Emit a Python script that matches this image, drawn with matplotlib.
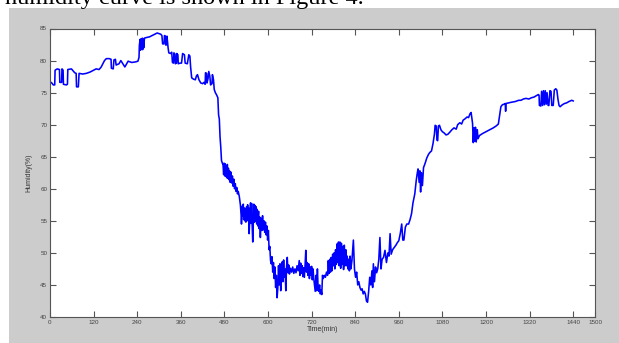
import numpy as np
import matplotlib.pyplot as plt

# humidity record (time in minutes, humidity in %),
# split into four stretches of the day

# night / morning, high plateau (0-475 min)
morning_t = [
    0, 5, 9, 13, 14, 20, 26, 27, 32, 33, 36, 37, 45, 48, 49, 59, 68, 72, 73, 78,
    80, 90, 100, 110, 127, 135, 141, 150, 155, 163, 168, 169, 174, 176, 180, 182, 186, 190, 195, 206,
    215, 225, 236, 242, 245, 246, 248, 249, 251, 252, 254, 255, 257, 258, 260, 266, 274, 281, 288, 295,
    300, 305, 308, 310, 314, 315, 318, 319, 321, 322, 325, 327, 332, 335, 337, 340, 341, 344, 345, 348,
    349, 352, 353, 358, 362, 365, 370, 372, 378, 382, 385, 387, 390, 395, 400, 403, 406, 410, 415, 420,
    424, 427, 428, 431, 432, 435, 437, 440, 442, 446, 447, 450, 452, 455, 458, 462, 464, 466, 468, 470,
    472, 475,
]
morning_h = [
    76.7, 76.5, 76.2, 76.2, 78.5, 78.7, 78.6, 76.6, 76.6, 78.7, 78.5, 76.3, 76.2, 76.3, 78.6, 78.7, 78.1, 78.0, 75.9, 75.9,
    78.0, 77.9, 78.0, 78.2, 78.7, 78.6, 79.0, 80.0, 80.3, 80.3, 80.2, 78.8, 78.7, 80.1, 80.2, 79.3, 79.4, 79.5, 80.0, 79.0,
    79.9, 79.7, 79.8, 79.9, 80.5, 82.4, 83.3, 81.6, 83.4, 81.8, 83.5, 81.7, 83.4, 82.0, 83.5, 83.6, 83.7, 83.9, 84.1, 84.3,
    84.2, 84.1, 83.9, 82.6, 82.6, 83.9, 83.8, 82.4, 82.5, 83.8, 82.0, 81.2, 81.1, 81.3, 79.7, 79.6, 81.2, 81.0, 79.5, 79.6,
    81.1, 80.9, 79.5, 79.6, 79.6, 81.1, 80.9, 79.6, 79.5, 80.9, 80.7, 79.0, 77.3, 77.1, 77.0, 77.6, 77.8, 77.0, 76.5, 76.4,
    76.6, 76.3, 78.1, 78.0, 76.5, 77.2, 78.3, 77.5, 76.2, 76.4, 77.8, 77.0, 75.5, 75.0, 74.7, 74.2, 71.5, 70.9, 68.1, 66.5,
    64.4, 63.9,
]

# fall (476-605 min)
fall_t = [
    476, 478, 479, 481, 482, 484, 485, 487, 488, 490,
    491, 493, 494, 496, 498, 500, 502, 504, 506, 508,
    510, 512, 514, 516, 518, 521, 524, 526, 527, 529,
    530, 532, 533, 535, 536, 538, 539, 541, 542, 544,
    545, 547, 548, 550, 552, 553, 555, 556, 558, 560,
    561, 563, 564, 566, 567, 569, 570, 572, 574, 575,
    577, 579, 581, 583, 585, 587, 589, 591, 593, 595,
    597, 599, 601, 603, 605,
]
fall_h = [
    63.9, 62.2, 64.0, 62.0, 63.9, 61.9, 63.6, 61.7, 63.8, 61.6,
    63.2, 61.4, 62.8, 61.0, 62.6, 60.9, 62.0, 60.4, 61.5, 60.0,
    60.8, 59.6, 60.2, 59.2, 59.6, 58.8, 57.5, 55.9, 54.5, 57.3,
    55.8, 57.6, 55.2, 57.0, 55.0, 56.8, 54.8, 57.2, 55.2, 57.5,
    55.0, 57.0, 53.0, 55.5, 57.8, 54.6, 57.7, 55.0, 51.7, 56.0,
    57.6, 54.8, 57.4, 55.0, 57.2, 54.5, 56.8, 54.2, 56.5, 53.8,
    55.6, 52.4, 55.4, 53.5, 55.8, 53.6, 55.0, 53.2, 54.8, 52.8,
    54.2, 52.0, 53.5, 50.5, 51.0,
]

# afternoon trough (607-868 min)
trough_t = [
    607, 609, 611, 613, 615, 617, 619, 621, 623, 625,
    627, 629, 631, 633, 635, 637, 639, 641, 643, 645,
    647, 649, 651, 653, 655, 657, 659, 662, 665, 668,
    671, 674, 677, 680, 683, 686, 688, 690, 692, 694,
    696, 698, 700, 702, 704, 706, 708, 710, 712, 714,
    716, 718, 720, 722, 724, 726, 728, 730, 732, 734,
    736, 738, 740, 742, 744, 746, 748, 750, 752, 755,
    758, 761, 764, 766, 768, 770, 772, 774, 776, 778,
    780, 782, 784, 786, 788, 790, 792, 794, 796, 798,
    800, 802, 804, 806, 808, 810, 812, 814, 816, 818,
    820, 822, 824, 826, 828, 831, 835, 838, 841, 844,
    847, 850, 853, 856, 859, 862, 865, 868,
]
trough_h = [
    48.8, 48.3, 49.4, 47.0, 48.5, 46.0, 47.8, 44.6, 46.5, 43.0,
    44.5, 48.0, 45.0, 48.3, 44.1, 47.5, 48.6, 45.5, 48.9, 46.2,
    47.5, 44.1, 47.8, 49.3, 46.9, 48.1, 46.7, 47.6, 47.0, 47.8,
    46.8, 47.5, 46.9, 48.0, 47.2, 48.8, 46.5, 48.4, 46.8, 48.0,
    46.3, 47.7, 46.2, 48.0, 50.4, 47.0, 48.5, 46.5, 48.3, 46.0,
    47.8, 46.5, 47.9, 45.8, 47.5, 46.0, 45.0, 44.0, 46.5, 44.1,
    47.5, 44.4, 44.0, 45.0, 43.6, 44.2, 43.5, 46.5, 46.0, 46.5,
    46.2, 47.0, 46.5, 48.8, 46.8, 49.0, 47.0, 49.3, 47.2, 49.8,
    48.0, 50.0, 47.5, 50.5, 48.2, 51.4, 48.5, 51.7, 48.0, 51.7,
    47.6, 51.5, 48.2, 51.0, 47.4, 51.2, 48.0, 50.5, 48.0, 49.5,
    47.5, 49.0, 47.2, 49.5, 47.5, 48.8, 52.0, 47.5, 46.2, 47.0,
    45.0, 45.5, 44.6, 44.2, 44.4, 43.6, 44.0, 43.6,
]

# evening rise (871-1440 min)
rise_t = [
    871, 874, 877, 880, 883, 886, 888, 890, 893, 896,
    899, 902, 905, 908, 911, 914, 918, 922, 926, 930, 933, 936, 939, 943, 947, 952, 956, 960, 964, 968,
    971, 974, 978, 982, 987, 991, 995, 999, 1004, 1008, 1011, 1013, 1016, 1018, 1020, 1022, 1025, 1028, 1032, 1037,
    1042, 1046, 1050, 1054, 1058, 1060, 1063, 1065, 1067, 1069, 1072, 1076, 1080, 1085, 1090, 1095, 1100, 1106, 1112, 1118,
    1122, 1128, 1133, 1137, 1142, 1148, 1152, 1156, 1159, 1161, 1163, 1165, 1167, 1169, 1171, 1173, 1176, 1178, 1182, 1190,
    1200, 1210, 1220, 1228, 1234, 1238, 1241, 1245, 1250, 1253, 1254, 1255, 1262, 1270, 1280, 1290, 1296, 1303, 1310, 1318,
    1325, 1332, 1338, 1344, 1346, 1347, 1351, 1353, 1356, 1358, 1361, 1363, 1366, 1368, 1371, 1373, 1376, 1379, 1381, 1385,
    1388, 1392, 1395, 1398, 1401, 1404, 1410, 1416, 1422, 1428, 1436, 1440,
]
rise_h = [
    42.5, 42.3, 44.0, 46.2, 45.0, 47.2, 44.6, 48.3, 45.5, 47.8,
    46.9, 47.5, 49.0, 52.4, 47.5, 49.0, 49.3, 50.4, 48.5, 50.0, 49.5, 53.0, 49.8, 50.5, 50.8, 51.2, 51.6, 51.9, 53.0, 54.5,
    52.0, 52.0, 54.0, 54.5, 54.5, 55.2, 56.1, 57.8, 59.2, 61.3, 62.5, 63.1, 61.0, 62.8, 59.5, 62.5, 60.5, 63.3, 63.9, 64.8,
    65.4, 65.7, 65.9, 67.0, 68.5, 69.9, 69.8, 67.6, 67.5, 69.8, 69.9, 69.2, 68.9, 68.7, 68.4, 68.5, 68.8, 69.2, 69.5, 69.3,
    70.0, 70.3, 70.1, 70.7, 70.9, 71.2, 71.1, 71.7, 71.9, 71.0, 70.2, 67.2, 69.5, 67.4, 69.6, 67.3, 69.2, 67.8, 68.3, 68.6,
    68.9, 69.2, 69.5, 69.8, 70.1, 71.7, 72.8, 73.1, 73.2, 73.3, 72.1, 73.3, 73.4, 73.5, 73.6, 73.8, 73.8, 74.0, 74.1, 74.0,
    74.2, 74.3, 74.5, 74.7, 74.6, 73.0, 72.9, 75.2, 73.0, 75.3, 73.1, 75.3, 73.2, 75.0, 73.0, 73.0, 75.3, 75.2, 73.0, 73.0,
    75.4, 75.6, 75.4, 74.0, 73.0, 72.8, 73.1, 73.3, 73.4, 73.6, 73.8, 73.7,
]

time_min = morning_t + fall_t + trough_t + rise_t
humidity = morning_h + fall_h + trough_h + rise_h

x_ticks = list(range(0, 1501, 120)) + [1500]
y_ticks = list(range(40, 86, 5))

fig = plt.figure(figsize=(6.19, 3.43), dpi=100, facecolor='white')

# grey MATLAB figure window behind the axes
bg = fig.add_axes([9 / 619, 0, 1 - 9 / 619, 1 - 8 / 343], zorder=0)
bg.set_facecolor('#cccccc')
bg.set_xticks([])
bg.set_yticks([])
for s in bg.spines.values():
    s.set_visible(False)

# bottom of the caption line from the paper, cut by the crop
fig.text(5 / 619, 1 - 4 / 343, 'humidity curve is shown in Figure 4.',
         family='Liberation Serif', fontsize=17.5, va='baseline', ha='left')

ax = fig.add_axes([50 / 619, 26 / 343, 545 / 619, 288.5 / 343], zorder=2)
ax.set_facecolor('white')
ax.plot(time_min, humidity, color='#0000ff', linewidth=1.15)

ax.set_xlim(0, 1500)
ax.set_ylim(40, 85)
ax.set_xticks(sorted(set(x_ticks)))
ax.set_yticks(y_ticks)
ax.tick_params(direction='in', length=4, width=0.8, color='#555555',
               labelsize=4.5, labelcolor='#444444', top=True, right=True, pad=2)
for s in ax.spines.values():
    s.set_color('#555555')
    s.set_linewidth(0.8)

ax.set_xlabel('Time(min)', fontsize=5, color='#333333', family='Liberation Sans', labelpad=1)
ax.set_ylabel('Humidity(%)', fontsize=5, color='#333333', family='Liberation Sans', labelpad=6)
for lbl in ax.get_xticklabels() + ax.get_yticklabels():
    lbl.set_family('Liberation Sans')

fig.savefig('out.png', dpi=100, facecolor='white')
